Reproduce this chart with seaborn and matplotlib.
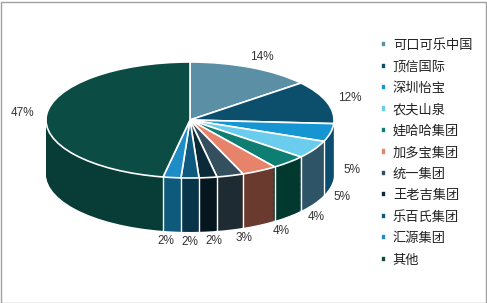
import numpy as np
import matplotlib
matplotlib.use("Agg")
import matplotlib.pyplot as plt
from matplotlib.patches import Rectangle
import seaborn as sns

sns.set_theme(style="white")
plt.rcParams['font.family'] = ['Noto Sans CJK SC', 'DejaVu Sans']

labels = ["可口可乐中国", "顶信国际", "深圳怡宝", "农夫山泉", "娃哈哈集团", "加多宝集团",
          "统一集团", "王老吉集团", "乐百氏集团", "汇源集团", "其他"]
values = [14, 12, 5, 5, 4, 4, 3, 2, 2, 2, 47]
pct_text = ["14%", "12%", "5%", "5%", "4%", "4%", "3%", "2%", "2%", "2%", "47%"]
colors = ["#5B8FA6", "#0B4F6C", "#1596D3", "#6BCDEE", "#0E7E72", "#E8836B",
          "#34505E", "#0B2A38", "#0D5A7E", "#1E8CC6", "#0B4C44"]
side_colors = ["#2E4A57", "#062C3D", "#0B4D6E", "#2E5468", "#02392F", "#6B3A2E",
               "#1E2B32", "#06161E", "#08344A", "#0E5A7A", "#073D36"]

W, H = 487, 303
fig = plt.figure(figsize=(W / 100, H / 100), dpi=100)
ax = fig.add_axes([0, 0, 1, 1])

depth = 0.93
for z in np.linspace(depth, 0.02, 45):
    ax.pie(values, colors=side_colors, startangle=90, counterclock=False,
           center=(0, -z), radius=1, wedgeprops=dict(linewidth=0))
wedges, _ = ax.pie(values, colors=colors, startangle=90, counterclock=False,
                   center=(0, 0), radius=1,
                   wedgeprops=dict(edgecolor="white", linewidth=1.2))

# side separators and labels
total = sum(values)
cum = 0
for v, t in zip(values, pct_text):
    start = 90 - cum / total * 360
    cum += v
    end = 90 - cum / total * 360
    a = np.deg2rad(end)
    if np.sin(a) < 0 and cum < total:
        ax.plot([np.cos(a), np.cos(a)], [np.sin(a), np.sin(a) - depth],
                color="white", lw=1.0, zorder=5)
    mid = np.deg2rad((start + end) / 2)
    c, s = np.cos(mid), np.sin(mid)
    if s >= 0 or c < -0.9:
        x, y = 1.17 * c, 1.2 * s
    else:
        x = 1.1 * c + 0.25 * c * abs(s)
        y = 1.2 * s - depth * (0.55 + 0.42 * abs(s))
    ax.text(x, y, t, ha="center", va="center", fontsize=8.5,
            family=["Liberation Sans", "DejaVu Sans"], color="#333333", zorder=6)

ax.set_aspect("auto")
cx, cy = 190, 120
rx, ry = 144, 58
ax.set_xlim(-cx / rx, (W - cx) / rx)
ax.set_ylim(-(H - cy) / ry, cy / ry)
ax.axis("off")

leg = ax.legend(wedges, labels, loc="upper left", bbox_to_anchor=(381 / W, 1 - 39 / H),
                bbox_transform=fig.transFigure, frameon=False, fontsize=9.5,
                handlelength=0.35, handleheight=0.35, handletextpad=0.55,
                labelspacing=0.64, borderaxespad=0, borderpad=0)
for txt in leg.get_texts():
    txt.set_color("#222222")

fig.patches.append(Rectangle((0.5 / W, 0.5 / H), 1 - 2 / W, 1 - 2 / H,
                             transform=fig.transFigure, fill=False,
                             edgecolor="#A0A0A0", lw=1))
fig.savefig("out.png", dpi=100)
